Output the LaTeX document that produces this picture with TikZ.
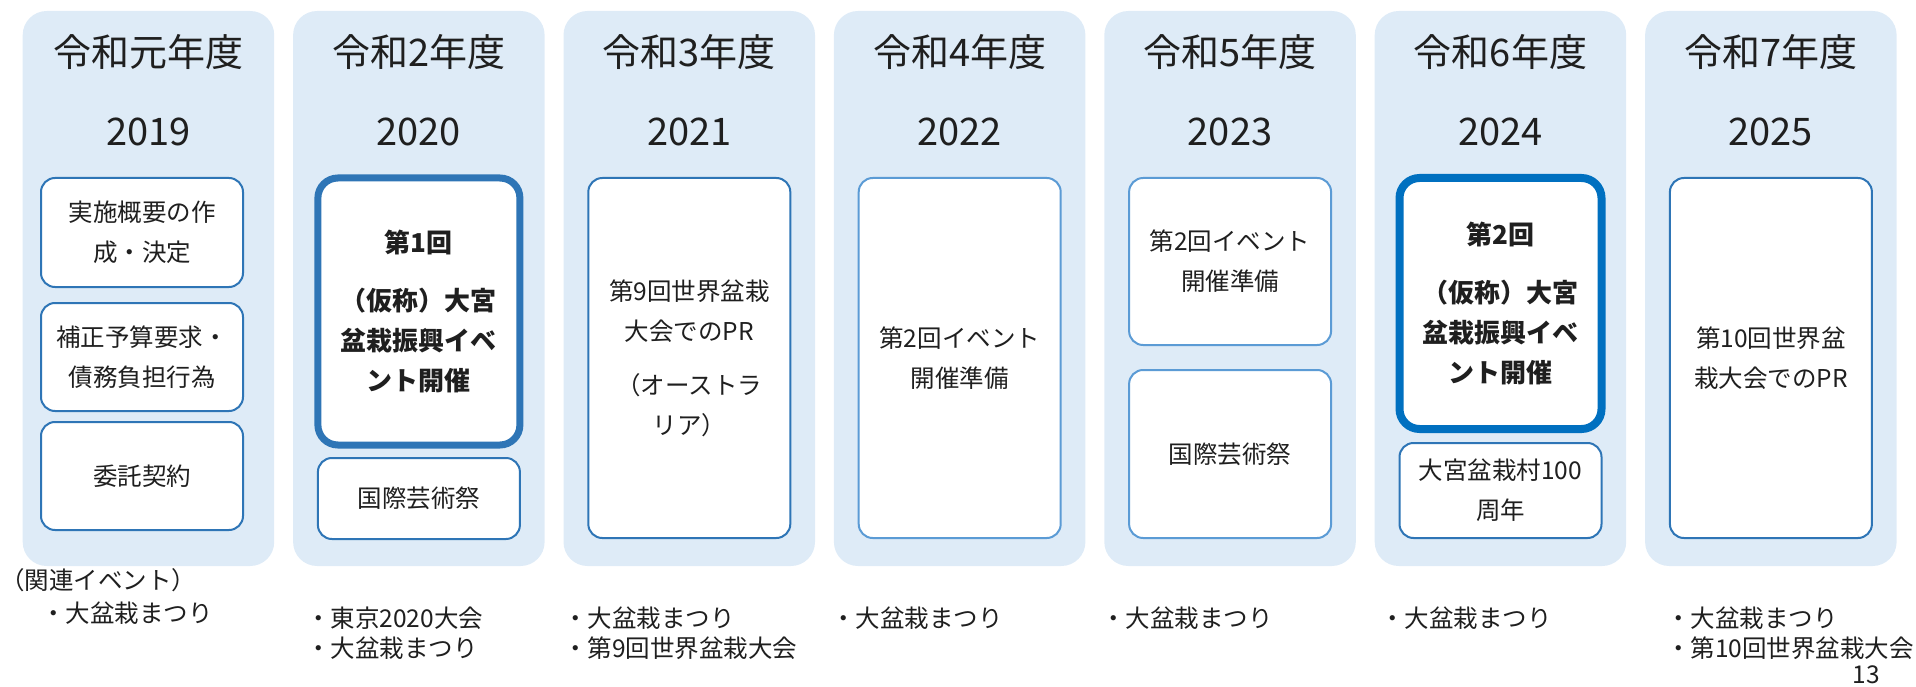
\documentclass[tikz,border=0pt]{standalone}
\usepackage{fontspec}
\setmainfont{Noto Sans CJK JP}
\definecolor{panelc}{HTML}{DEEBF7}
\definecolor{boxc}{HTML}{2E75B6}
\definecolor{lightc}{HTML}{5B9BD5}
\definecolor{hic}{HTML}{0070C0}
\definecolor{txt}{HTML}{1F1F1F}
\begin{document}
\begin{tikzpicture}[x=1pt,y=-1pt,
  panel/.style={fill=panelc, draw=none, rounded corners=24pt, minimum width=251.5pt, minimum height=555pt, inner sep=0pt},
  title/.style={font=\fontsize{38}{46}\selectfont, text=txt, inner sep=0pt},
  box/.style={draw=boxc, line width=2pt, fill=white, rounded corners=14pt, align=center, font=\fontsize{24.5}{40}\selectfont, text=txt, minimum width=202pt, inner sep=0pt},
  lightbox/.style={box, draw=lightc},
  hibox/.style={box, line width=7pt, rounded corners=20pt, font=\bfseries\fontsize{26}{40}\selectfont},
  note/.style={anchor=west, align=left, font=\fontsize{24.5}{30}\selectfont, text=txt, inner sep=0pt}]
\useasboundingbox (0,0) rectangle (1916,687);
\foreach \i/\t/\y in {0/元/2019,1/2/2020,2/3/2021,3/4/2022,4/5/2023,5/6/2024,6/7/2025}{
  \pgfmathsetmacro\cx{148.45+270.4*\i}
  \node[panel] (p\i) at (\cx,288.5) {};
  \node[title] (t\i) at (\cx,52) {令和\t 年度};
  \node[title] (y\i) at (\cx,132) {\y};
}
% column 1
\node[box, minimum height=109pt] (a1) at (142,232.5) {実施概要の作\\成・決定};
\node[box, minimum height=108pt] (a2) at (142,357) {補正予算要求・\\債務負担行為};
\node[box, minimum height=108pt] (a3) at (142,476) {委託契約};
% column 2
\node[hibox, draw=boxc, minimum height=267pt] (b1) at (418.9,311.5) {第1回\\[18pt]（仮称）大宮\\盆栽振興イベ\\ント開催};
\node[box, minimum height=81pt] (b2) at (418.9,498.5) {国際芸術祭};
% column 3
\node[box, minimum height=360pt] (c1) at (689.3,358) {第9回世界盆栽\\大会でのPR\\[14pt]（オーストラ\\リア）};
% column 4
\node[lightbox, minimum height=360pt] (d1) at (959.7,358) {第2回イベント\\開催準備};
% column 5
\node[lightbox, minimum height=167pt] (e1) at (1230.1,261.5) {第2回イベント\\開催準備};
\node[lightbox, minimum height=168pt] (e2) at (1230.1,454) {国際芸術祭};
% column 6
\node[hibox, draw=hic, line width=8pt, minimum height=251pt] (f1) at (1500.5,303.5) {第2回\\[18pt]（仮称）大宮\\盆栽振興イベ\\ント開催};
\node[box, minimum height=95pt] (f2) at (1500.5,490.5) {大宮盆栽村100\\周年};
% column 7
\node[box, minimum height=360pt] (g1) at (1770.9,358) {第10回世界盆\\栽大会でのPR};
% related events
\node[note] (n0) at (0,580) {（関連イベント）};
\node[note] (n1) at (41,613) {・大盆栽まつり};
\node[note] (n2) at (306,633) {・東京2020大会\\・大盆栽まつり};
\node[note] (n3) at (563,633) {・大盆栽まつり\\・第9回世界盆栽大会};
\node[note] (n4) at (831,618) {・大盆栽まつり};
\node[note] (n5) at (1101,618) {・大盆栽まつり};
\node[note] (n6) at (1380,618) {・大盆栽まつり};
\node[note] (n7) at (1666,633) {・大盆栽まつり\\・第10回世界盆栽大会};
\node[font=\fontsize{24.5}{30}\selectfont, text=txt, inner sep=0pt] (pg) at (1866,675) {13};
\end{tikzpicture}
\end{document}
